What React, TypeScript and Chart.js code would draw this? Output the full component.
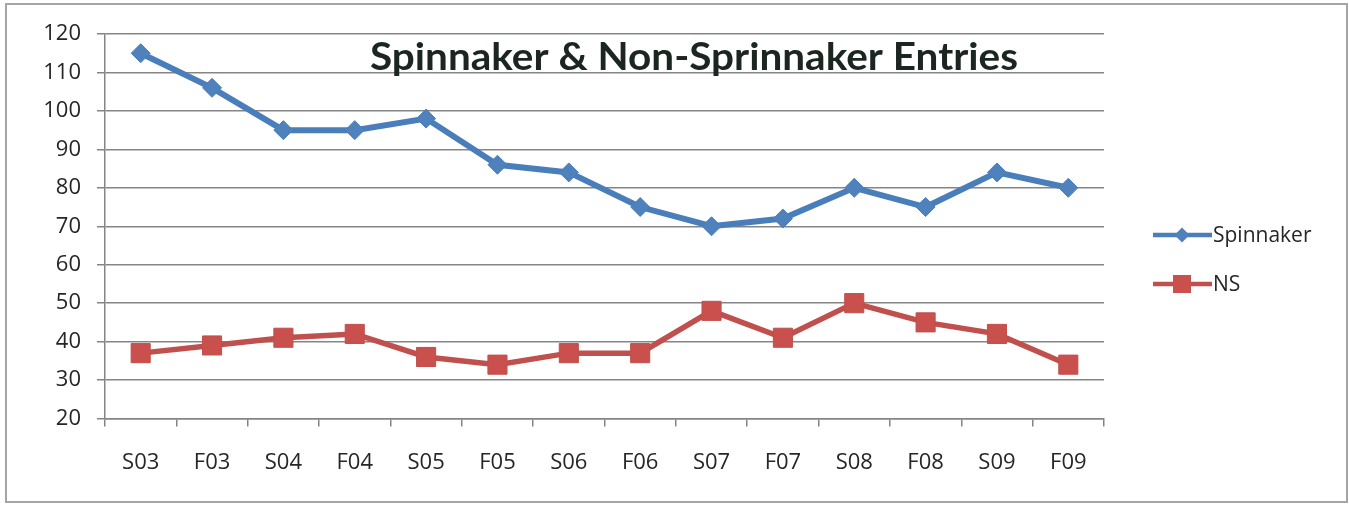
import React, { useEffect, useRef } from 'react';
import { Chart, registerables } from 'chart.js';

Chart.register(...registerables);

const categories = ['S03', 'F03', 'S04', 'F04', 'S05', 'F05', 'S06', 'F06', 'S07', 'F07', 'S08', 'F08', 'S09', 'F09'];
const spinnakerValues = [115, 106, 95, 95, 98, 86, 84, 75, 70, 72, 80, 75, 84, 80];
const nsValues = [37, 39, 41, 42, 36, 34, 37, 37, 48, 41, 50, 45, 42, 34];
const seriesNames = ['Spinnaker', 'NS'];
const yMin = 20;
const yMax = 120;
const yStep = 10;
const titleText = 'Spinnaker & Non-Sprinnaker Entries';

const BLUE_LINE = '#4a7ebb';
const BLUE_FILL = '#4f81bd';
const RED_LINE = '#c0504d';
const RED_FILL = '#c9504d';
const GRID = '#858585';
const TEXT = '#262626';
const FONT = '"Open Sans", sans-serif';

function drawDiamond(ctx: CanvasRenderingContext2D, x: number, y: number, r: number) {
  ctx.beginPath();
  ctx.moveTo(x - r, y);
  ctx.lineTo(x, y - r);
  ctx.lineTo(x + r, y);
  ctx.lineTo(x, y + r);
  ctx.closePath();
  ctx.fill();
}

const overlayPlugin = {
  id: 'overlay',
  afterDraw(chart: any) {
    const ctx: CanvasRenderingContext2D = chart.ctx;
    ctx.save();
    // Title (inside plot area, as in the original)
    ctx.font = 'bold 38px Lato, "Open Sans", sans-serif';
    ctx.fillStyle = '#1c2620';
    ctx.textAlign = 'left';
    ctx.textBaseline = 'alphabetic';
    const w = ctx.measureText(titleText).width;
    const targetW = 648;
    ctx.save();
    ctx.translate(370, 70);
    ctx.scale(targetW / w, 1);
    ctx.fillText(titleText, 0, 0);
    ctx.restore();

    // Legend
    const ds = chart.data.datasets;
    const rows = [235, 284];
    ds.forEach((d: any, i: number) => {
      const y = rows[i];
      ctx.strokeStyle = d.borderColor;
      ctx.lineWidth = 4.5;
      ctx.beginPath();
      ctx.moveTo(1153, y);
      ctx.lineTo(1212, y);
      ctx.stroke();
      ctx.fillStyle = d.pointBackgroundColor;
      if (d.pointStyle === 'rectRot') {
        drawDiamond(ctx, 1182, y, 7.5);
      } else {
        ctx.fillRect(1182 - 9, y - 9, 18, 18);
      }
      ctx.fillStyle = TEXT;
      ctx.font = '21px ' + FONT;
      ctx.textAlign = 'left';
      ctx.textBaseline = 'middle';
      ctx.fillText(d.label, 1213, y + 1);
    });
    ctx.restore();
  },
};

export default function App() {
  const canvasRef = useRef<HTMLCanvasElement | null>(null);

  useEffect(() => {
    if (!canvasRef.current) return;
    const chart = new Chart(canvasRef.current, {
      type: 'line',
      data: {
        labels: categories,
        datasets: [
          {
            label: seriesNames[0],
            data: spinnakerValues,
            borderColor: BLUE_LINE,
            backgroundColor: BLUE_FILL,
            pointBackgroundColor: BLUE_FILL,
            pointBorderColor: BLUE_LINE,
            borderWidth: 6,
            pointStyle: 'rectRot',
            pointRadius: 9.5,
            pointBorderWidth: 1,
            tension: 0,
          },
          {
            label: seriesNames[1],
            data: nsValues,
            borderColor: RED_LINE,
            backgroundColor: RED_FILL,
            pointBackgroundColor: RED_FILL,
            pointBorderColor: RED_LINE,
            borderWidth: 5.5,
            pointStyle: 'rect',
            pointRadius: 13.5,
            pointBorderWidth: 1,
            tension: 0,
          },
        ],
      },
      options: {
        animation: false,
        responsive: true,
        maintainAspectRatio: false,
        layout: { padding: { top: 34, right: 245, bottom: 0, left: 0 } },
        plugins: {
          legend: { display: false },
          title: { display: false },
          tooltip: { enabled: false },
        },
        scales: {
          x: {
            type: 'category',
            offset: true,
            afterFit: (s: any) => { s.height = 87.5; },
            grid: {
              offset: true,
              drawOnChartArea: false,
              drawTicks: true,
              tickLength: 8,
              color: GRID,
              lineWidth: 1.5,
            },
            border: { display: true, color: GRID, width: 1.5 },
            ticks: {
              padding: 23,
              color: TEXT,
              font: { family: FONT, size: 22 },
              maxRotation: 0,
              autoSkip: false,
            },
          },
          y: {
            min: yMin,
            max: yMax,
            afterFit: (s: any) => { s.width = 105; },
            grid: {
              color: GRID,
              lineWidth: 1.5,
              tickLength: 8,
              drawTicks: true,
            },
            border: { display: true, color: GRID, width: 1.5 },
            ticks: {
              stepSize: yStep,
              padding: 16,
              color: TEXT,
              font: { family: FONT, size: 22 },
            },
          },
        },
      },
      plugins: [overlayPlugin],
    });
    return () => chart.destroy();
  }, []);

  return (
    <div style={{ position: 'fixed', left: 0, top: 0, width: 1349, height: 506, background: '#fff' }}>
      <div
        style={{
          position: 'absolute',
          left: 5,
          top: 3,
          width: 1343,
          height: 500,
          boxSizing: 'border-box',
          border: '2px solid #a5a5a5',
        }}
      />
      <canvas ref={canvasRef} style={{ position: 'absolute', left: 0, top: 0, width: 1349, height: 506 }} />
    </div>
  );
}
